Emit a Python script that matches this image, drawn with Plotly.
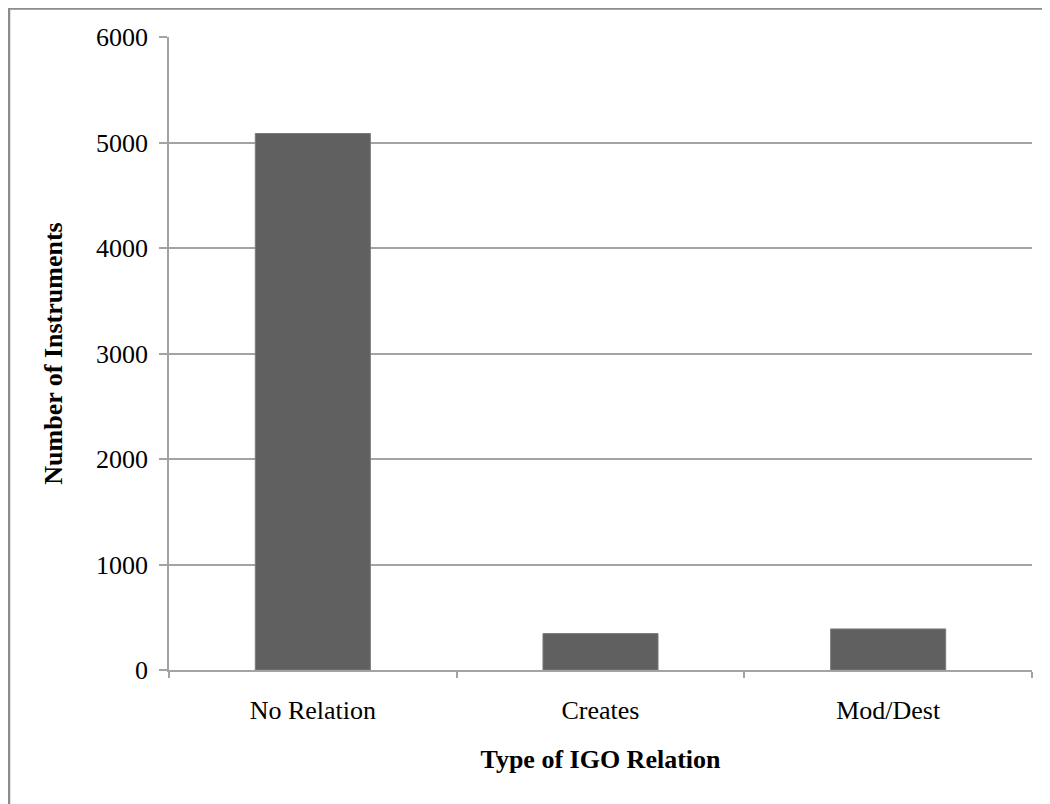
import plotly.graph_objects as go

categories = ["No Relation", "Creates", "Mod/Dest"]
counts = [5085, 345, 389]
y_ticks = [0, 1000, 2000, 3000, 4000, 5000, 6000]

FONT = "Liberation Serif"
GRID = "#a3a3a3"

fig = go.Figure(
    go.Bar(
        x=categories,
        y=counts,
        marker=dict(color="#606060", line=dict(color="#7a7a7a", width=1)),
        showlegend=False,
    )
)

# page body adds an 8px offset, so figure coords = screen coords - 8
W, H = 1050, 804
L, R, T, B = 161, 26, 29, 142
pw, ph = W - L - R, H - T - B

fig.update_layout(
    width=W,
    height=H,
    margin=dict(l=L, r=R, t=T, b=B, pad=0),
    paper_bgcolor="white",
    plot_bgcolor="white",
    bargap=0.6,
    font=dict(family=FONT, color="black", size=26),
    xaxis=dict(
        showline=True,
        linecolor=GRID,
        linewidth=1.5,
        ticks="outside",
        ticklen=6,
        tickcolor=GRID,
        tickwidth=1.5,
        tickson="boundaries",
        showgrid=False,
        tickfont=dict(family=FONT, size=26, color="black"),
        ticklabelstandoff=16,
        title=dict(
            text="<b>Type of IGO Relation</b>",
            font=dict(family=FONT, size=26, color="black"),
            standoff=26,
        ),
    ),
    yaxis=dict(
        range=[0, 6000],
        tickvals=y_ticks,
        showline=True,
        linecolor=GRID,
        linewidth=1.5,
        ticks="outside",
        ticklen=8,
        tickcolor=GRID,
        tickwidth=1.5,
        showgrid=True,
        gridcolor=GRID,
        gridwidth=1.5,
        zeroline=False,
        tickfont=dict(family=FONT, size=26, color="black"),
        ticklabelstandoff=6,
        title=dict(
            text="<b>Number of Instruments</b>",
            font=dict(family=FONT, size=26, color="black"),
            standoff=26,
        ),
    ),
    shapes=[
        dict(
            type="rect",
            xref="paper",
            yref="paper",
            x0=(1 - L) / pw,
            x1=1.1,
            y0=-0.4,
            y1=(H - B - 0.5) / ph,
            line=dict(color="#8c8c8c", width=2.5),
            fillcolor="rgba(0,0,0,0)",
            layer="below",
        )
    ],
)

fig.write_html("out.html")
